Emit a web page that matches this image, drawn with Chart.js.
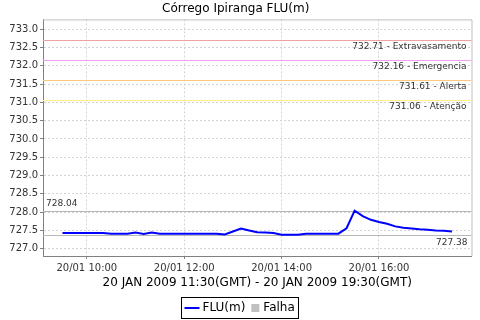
<!DOCTYPE html>
<html>
<head>
<meta charset="utf-8">
<script src="https://cdn.jsdelivr.net/npm/chart.js@4/dist/chart.umd.min.js"></script>
<style>
  html, body { margin: 0; padding: 0; background: #fff; }
  #wrap { width: 480px; height: 320px; }
</style>
</head>
<body>
<div id="wrap"><canvas id="chart"></canvas></div>
<script>
// reading times, minutes after 00:00 local (one every 10 min, 09:30 -> 17:30)
const times = [570, 580, 590, 600, 610, 620, 630, 640, 650, 660,
               670, 680, 690, 700, 710, 720, 730, 740, 750, 760,
               770, 780, 790, 800, 810, 820, 830, 840, 850, 860,
               870, 880, 890, 900, 910, 920, 930, 940, 950, 960,
               970, 980, 990, 1000, 1010, 1020, 1030, 1040, 1050];
const levels = [727.43, 727.43, 727.43, 727.43, 727.43, 727.43, 727.41, 727.41, 727.41, 727.44,
                727.40, 727.44, 727.41, 727.41, 727.41, 727.41, 727.41, 727.41, 727.41, 727.41,
                727.39, 727.47, 727.55, 727.50, 727.45, 727.44, 727.43, 727.38, 727.38, 727.38,
                727.41, 727.41, 727.41, 727.41, 727.41, 727.56, 728.04, 727.89, 727.79, 727.73,
                727.68, 727.61, 727.57, 727.55, 727.53, 727.52, 727.50, 727.49, 727.47];
const xTicks = [600, 720, 840, 960];
const yTicks = [727.0, 727.5, 728.0, 728.5, 729.0, 729.5, 730.0, 730.5, 731.0, 731.5, 732.0, 732.5, 733.0];
const limitValues = [732.71, 732.16, 731.61, 731.06];
const limitNames = ["Extravasamento", "Emergencia", "Alerta", "Atenção"];
const legendLabels = ["FLU(m)", "Falha"];

const limitColors = ["#f0a0a0", "#f0a0f0", "#ffc880", "#fff080"];
const FONT = '"DejaVu Sans", Verdana, sans-serif';

function hhmm(m) {
  const h = Math.floor(m / 60), mm = m % 60;
  return String(h).padStart(2, "0") + ":" + String(mm).padStart(2, "0");
}

const decor = {
  id: "decor",
  beforeDatasetsDraw(chart) {
    const { ctx, chartArea: a, scales: { y } } = chart;
    ctx.save();
    ctx.lineWidth = 1;

    // plot outline, top and right
    ctx.strokeStyle = "#c0c0c0";
    ctx.beginPath();
    ctx.moveTo(a.left, a.top + 0.5);
    ctx.lineTo(a.right + 0.5, a.top + 0.5);
    ctx.lineTo(a.right + 0.5, a.bottom);
    ctx.stroke();

    ctx.font = "9px " + FONT;
    ctx.fillStyle = "#333";

    // alarm levels
    limitValues.forEach((v, i) => {
      const py = Math.round(y.getPixelForValue(v)) + 0.5;
      ctx.strokeStyle = limitColors[i];
      ctx.beginPath();
      ctx.moveTo(a.left, py);
      ctx.lineTo(a.right, py);
      ctx.stroke();
      ctx.textAlign = "right";
      ctx.textBaseline = "top";
      ctx.fillText(v.toFixed(2) + " - " + limitNames[i], a.right - 5, py + 2);
    });

    // max / min of the series
    const hi = Math.max(...levels), lo = Math.min(...levels);
    ctx.strokeStyle = "#b8b8b8";
    [hi, lo].forEach(v => {
      const py = Math.round(y.getPixelForValue(v)) + 0.5;
      ctx.beginPath();
      ctx.moveTo(a.left, py);
      ctx.lineTo(a.right, py);
      ctx.stroke();
    });
    ctx.textAlign = "left";
    ctx.textBaseline = "bottom";
    ctx.fillText(hi.toFixed(2), a.left + 3, Math.round(y.getPixelForValue(hi)) - 3);
    ctx.textAlign = "right";
    ctx.textBaseline = "top";
    ctx.fillText(lo.toFixed(2), a.right - 4, Math.round(y.getPixelForValue(lo)) + 3);
    ctx.restore();
  },
  afterDraw(chart) {
    // boxed legend under the axis title
    const { ctx } = chart;
    ctx.save();
    ctx.font = "12px " + FONT;
    const w1 = ctx.measureText(legendLabels[0]).width;
    const w2 = ctx.measureText(legendLabels[1]).width;
    const total = 3 + 15 + 3 + w1 + 6 + 8 + 4 + w2 + 4;
    const x0 = Math.round(240 - total / 2) + 0.5;
    const top = 297.5, h = 21, cy = top + h / 2;
    ctx.strokeStyle = "#000";
    ctx.lineWidth = 1;
    ctx.strokeRect(x0, top, Math.round(total), h);
    let x = x0 + 3;
    ctx.strokeStyle = "#0000ff";
    ctx.lineWidth = 2;
    ctx.beginPath();
    ctx.moveTo(x, cy);
    ctx.lineTo(x + 15, cy);
    ctx.stroke();
    x += 18;
    ctx.fillStyle = "#000";
    ctx.textAlign = "left";
    ctx.textBaseline = "middle";
    ctx.fillText(legendLabels[0], x, cy);
    x += w1 + 6;
    ctx.fillStyle = "#c0c0c0";
    ctx.fillRect(x, cy - 4, 8, 8);
    x += 12;
    ctx.fillStyle = "#000";
    ctx.fillText(legendLabels[1], x, cy);
    ctx.restore();
  }
};

new Chart(document.getElementById("chart"), {
  type: "line",
  data: {
    datasets: [{
      label: legendLabels[0],
      data: times.map((t, i) => ({ x: t, y: levels[i] })),
      borderColor: "#0000ff",
      borderWidth: 2,
      pointRadius: 0,
      tension: 0,
      fill: false
    }]
  },
  options: {
    responsive: true,
    maintainAspectRatio: false,
    animation: false,
    layout: { padding: { left: 0, right: 8.5, top: 0, bottom: 28 } },
    plugins: {
      legend: { display: false },
      tooltip: { enabled: false },
      title: {
        display: true,
        text: "Córrego Ipiranga FLU(m)",
        color: "#000",
        font: { family: FONT, size: 12, weight: "normal" },
        padding: { top: 2, bottom: 3 }
      }
    },
    scales: {
      x: {
        type: "linear",
        min: 546,
        max: 1074,
        afterBuildTicks(scale) { scale.ticks = xTicks.map(v => ({ value: v })); },
        afterFit(scale) { scale.height = 36; },
        ticks: {
          color: "#333",
          font: { family: FONT, size: 10 },
          padding: 3,
          maxRotation: 0,
          callback: v => "20/01 " + hhmm(v)
        },
        grid: {
          color: "#d4d4d4",
          tickColor: "#808080",
          tickLength: 3,
          tickBorderDash: []
        },
        border: { color: "#808080", dash: [2, 2] },
        title: {
          display: true,
          text: "20 JAN 2009 11:30(GMT) - 20 JAN 2009 19:30(GMT)",
          color: "#000",
          font: { family: FONT, size: 12 },
          padding: { top: 0, bottom: 2 }
        }
      },
      y: {
        min: 726.8,
        max: 733.27,
        afterBuildTicks(scale) { scale.ticks = yTicks.map(v => ({ value: v })); },
        afterFit(scale) { scale.width = 43; },
        ticks: {
          color: "#333",
          font: { family: FONT, size: 10 },
          padding: 2,
          callback: v => v.toFixed(1)
        },
        grid: {
          color: "#d4d4d4",
          tickColor: "#808080",
          tickLength: 3,
          tickBorderDash: []
        },
        border: { color: "#808080", dash: [2, 2] }
      }
    }
  },
  plugins: [decor]
});
</script>
</body>
</html>
